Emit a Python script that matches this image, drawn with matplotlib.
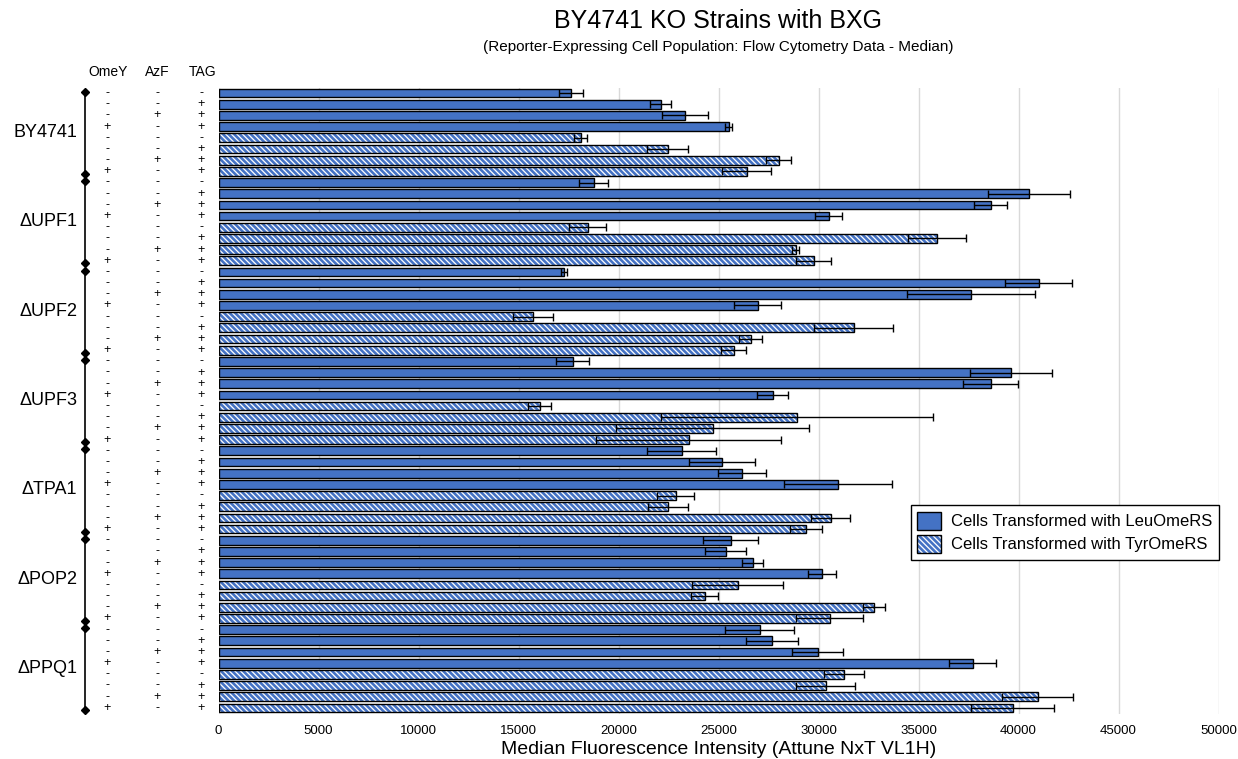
import matplotlib
matplotlib.use("Agg")
import matplotlib.pyplot as plt
import numpy as np
from matplotlib.patches import Patch
from matplotlib.legend_handler import HandlerTuple
from matplotlib.transforms import blended_transform_factory

plt.rcParams["font.family"] = ["Liberation Sans", "DejaVu Sans"]
plt.rcParams["hatch.linewidth"] = 1.9

# ─── DATA ────────────────────────────────────────────────────────────────────
strains = ["BY4741", "ΔUPF1", "ΔUPF2", "ΔUPF3", "ΔTPA1", "ΔPOP2", "ΔPPQ1"]
omey = ["-", "-", "-", "+"]
azf  = ["-", "-", "+", "-"]
tag  = ["-", "+", "+", "+"]

leu = [
    [17600, 22100, 23300, 25500],
    [18750, 40500, 38600, 30500],
    [17250, 41000, 37600, 26950],
    [17700, 39600, 38600, 27700],
    [23150, 25150, 26150, 30950],
    [25600, 25350, 26700, 30150],
    [27050, 27650, 29950, 37700],
]
leu_err = [
    [600, 520, 1150, 170],
    [740, 2050, 830, 670],
    [150, 1670, 3200, 1180],
    [840, 2050, 1360, 780],
    [1740, 1650, 1200, 2700],
    [1360, 1030, 530, 700],
    [1710, 1300, 1270, 1170],
]
tyr = [
    [18100, 22450, 28000, 26400],
    [18450, 35900, 28850, 29750],
    [15700, 31750, 26600, 25750],
    [16050, 28900, 24700, 23500],
    [22850, 22450, 30600, 29350],
    [25950, 24300, 32750, 30550],
    [31250, 30350, 40950, 39700],
]
tyr_err = [
    [320, 1030, 620, 1240],
    [940, 1450, 185, 890],
    [1000, 1990, 560, 640],
    [560, 6800, 4820, 4640],
    [930, 1000, 960, 800],
    [2280, 680, 550, 1690],
    [1000, 1490, 1780, 2070],
]

BLUE = "#4472C4"
HATCH = "\\" * 6
BAR_H = 0.78

# ─── FIGURE ──────────────────────────────────────────────────────────────────
W, H = 1238, 759
fig = plt.figure(figsize=(W / 100, H / 100), dpi=100)
ax_l, ax_r, ax_t, ax_b = 218.5, 1218.5, 87.5, 713.5
ax = fig.add_axes([ax_l / W, 1 - ax_b / H, (ax_r - ax_l) / W, (ax_b - ax_t) / H])

n_rows = len(strains) * 8
ax.set_xlim(0, 50000)
ax.set_ylim(n_rows - 0.5, -0.5)

for g in range(len(strains)):
    y_leu = np.arange(4) + 8 * g
    y_tyr = np.arange(4, 8) + 8 * g
    ax.barh(y_leu, leu[g], height=BAR_H, color=BLUE, edgecolor="black",
            linewidth=1.0, zorder=2)
    ax.barh(y_tyr, tyr[g], height=BAR_H, color="white", edgecolor=BLUE,
            hatch=HATCH, linewidth=0, zorder=2)
    ax.barh(y_tyr, tyr[g], height=BAR_H, fill=False, edgecolor="black",
            linewidth=1.0, zorder=3)
    ax.errorbar(leu[g], y_leu, xerr=leu_err[g], fmt="none", ecolor="black",
                elinewidth=1.0, capsize=3, capthick=1.0, zorder=4)
    ax.errorbar(tyr[g], y_tyr, xerr=tyr_err[g], fmt="none", ecolor="black",
                elinewidth=1.0, capsize=3, capthick=1.0, zorder=4)

ax.set_xticks(np.arange(0, 50001, 5000))
ax.set_xticklabels([str(v) for v in range(0, 50001, 5000)], fontsize=9.5)
ax.set_yticks([])
ax.tick_params(axis="x", length=0, pad=8)
ax.grid(axis="x", color="#d9d9d9", lw=1, zorder=0)
for s in ax.spines.values():
    s.set_visible(False)
ax.set_xlabel("Median Fluorescence Intensity (Attune NxT VL1H)", fontsize=14,
              labelpad=3)

# ─── LEFT ANNOTATIONS ────────────────────────────────────────────────────────
tr = blended_transform_factory(ax.transAxes, ax.transData)
def fx(px):
    return (px - ax_l) / (ax_r - ax_l)

for name, px in [("OmeY", 108), ("AzF", 157), ("TAG", 203)]:
    ax.text(fx(px), -1.9, name, transform=tr, ha="center", va="center",
            fontsize=10, clip_on=False)

for g, name in enumerate(strains):
    for k in range(8):
        row = 8 * g + k
        for col, px in [(omey, 107), (azf, 157), (tag, 201)]:
            ax.text(fx(px), row, col[k % 4], transform=tr, ha="center",
                    va="center", fontsize=9, clip_on=False)
    ax.text(fx(77), 8 * g + 3.5, name, transform=tr, ha="right", va="center",
            fontsize=13, clip_on=False)
    ax.plot([fx(85)] * 2, [8 * g - 0.12, 8 * g + 7.22], transform=tr,
            color="black", lw=1.2, marker="D", markersize=4.5,
            clip_on=False, zorder=5)

# ─── TITLES ──────────────────────────────────────────────────────────────────
xc = (ax_l + ax_r) / 2 / W
fig.text(xc, 1 - 21 / H, "BY4741 KO Strains with BXG", ha="center",
         va="center", fontsize=18)
fig.text(xc, 1 - 47 / H,
         "(Reporter-Expressing Cell Population: Flow Cytometry Data - Median)",
         ha="center", va="center", fontsize=11)

# ─── LEGEND ──────────────────────────────────────────────────────────────────
h_leu = Patch(facecolor=BLUE, edgecolor="black", linewidth=1.0)
h_tyr = (Patch(facecolor="white", edgecolor=BLUE, hatch=HATCH, linewidth=0),
         Patch(fill=False, edgecolor="black", linewidth=1.0))
leg = ax.legend([h_leu, h_tyr],
                ["Cells Transformed with LeuOmeRS",
                 "Cells Transformed with TyrOmeRS"],
                handler_map={tuple: HandlerTuple(ndivide=1, pad=0)},
                loc="upper right", bbox_to_anchor=(1.0, (ax_b - 505) / (ax_b - ax_t)),
                borderaxespad=0, fontsize=12, fancybox=False, framealpha=1,
                edgecolor="black", handlelength=1.4, handleheight=1.3,
                handletextpad=0.6, borderpad=0.4, labelspacing=0.3)
leg.get_frame().set_linewidth(1.0)

fig.savefig("out.png", dpi=100)
